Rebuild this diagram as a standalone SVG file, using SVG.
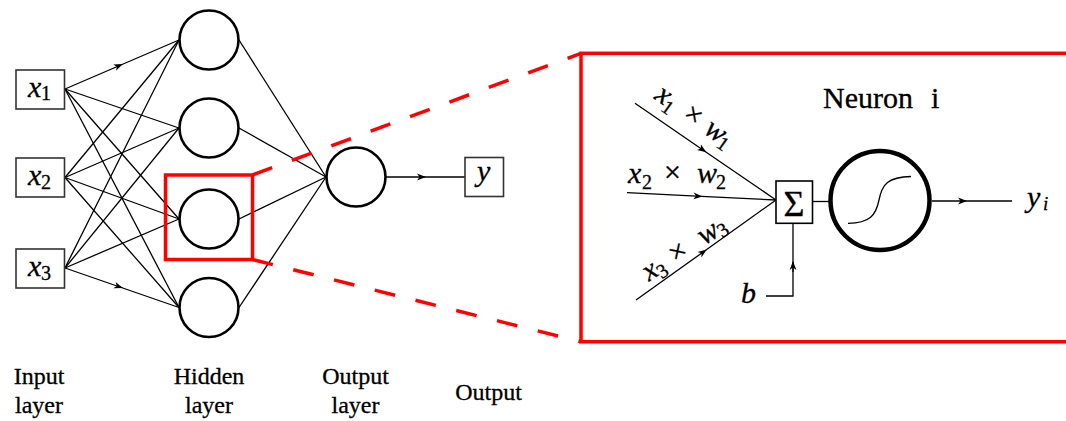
<svg xmlns="http://www.w3.org/2000/svg" width="1066" height="421" viewBox="0 0 1066 421" font-family="Liberation Serif, serif">
<style>
.edge{stroke:#000;stroke-width:1.3;fill:none}
.neuron{fill:#fff;stroke:#000;stroke-width:2.6}
.box{fill:#fff;stroke:#333;stroke-width:1.6}
.red{stroke:#f00;stroke-width:3.5;fill:none}
.dash{stroke:#f00;stroke-width:3.5;fill:none;stroke-dasharray:21 21}
text{font-family:'Liberation Serif',serif;fill:#000;stroke:#000;stroke-width:0.3}
.m{font-style:italic;font-size:30px}
.ms{font-style:normal;font-size:20px}
.op{font-style:normal;font-size:30px}
.lbl{font-size:24px;text-anchor:middle}
</style>
<defs>
<marker id="arr" viewBox="-10 -5 12 10" refX="0" refY="0" markerWidth="12" markerHeight="10" markerUnits="userSpaceOnUse" orient="auto">
<path d="M-8,-3.4 L1,0 L-8,3.4 L-5.5,0 Z" fill="#000"/>
</marker>
</defs>
<rect width="1066" height="421" fill="#fff"/>

<g id="connectors">
<path class="edge" d="M65,89 L122,64.5 L179,40" marker-mid="url(#arr)"/>
<path class="edge" d="M65,89 L179,128"/>
<path class="edge" d="M65,89 L179,219"/>
<path class="edge" d="M65,89 L179,307.5"/>
<path class="edge" d="M65,177.5 L179,40"/>
<path class="edge" d="M65,177.5 L179,128"/>
<path class="edge" d="M65,177.5 L179,219"/>
<path class="edge" d="M65,177.5 L179,307.5"/>
<path class="edge" d="M65,268 L179,40"/>
<path class="edge" d="M65,268 L179,128"/>
<path class="edge" d="M65,268 L179,219"/>
<path class="edge" d="M65,268 L122,287.75 L179,307.5" marker-mid="url(#arr)"/>
<path class="edge" d="M239,40 L326,177"/>
<path class="edge" d="M239,128 L326,177"/>
<path class="edge" d="M239,219 L326,177"/>
<path class="edge" d="M239,307.5 L326,177"/>
<path class="edge" d="M386,177 L425,177 L465,177" marker-mid="url(#arr)"/>
<path class="edge" d="M635,103.3 L705.5,151.7 L776,200" marker-mid="url(#arr)"/>
<path class="edge" d="M627,192.7 L701.5,196.35 L776,200" marker-mid="url(#arr)"/>
<path class="edge" d="M636,300 L706,250 L776,200" marker-mid="url(#arr)"/>
<path class="edge" d="M766,296 H793 V223.3"/>
<path class="edge" d="M793,272 L793,262" marker-end="url(#arr)"/>
<path class="edge" d="M812.3,201.5 L830,201.5"/>
<path class="edge" d="M932,201 L966,201 L1012,201" marker-mid="url(#arr)"/>
</g>

<g id="input-x1"><rect class="box" x="16" y="70" width="48.5" height="39"/>
<text><tspan class="m" x="28" y="96.5">x</tspan><tspan class="ms" x="41" y="100">1</tspan></text></g>
<g id="input-x2"><rect class="box" x="16" y="158" width="48.5" height="39"/>
<text><tspan class="m" x="28" y="185">x</tspan><tspan class="ms" x="41" y="189">2</tspan></text></g>
<g id="input-x3"><rect class="box" x="16" y="249" width="48.5" height="39"/>
<text><tspan class="m" x="28" y="275.5">x</tspan><tspan class="ms" x="41" y="279.5">3</tspan></text></g>

<g id="hidden-1"><circle class="neuron" cx="209" cy="40" r="29.5"/></g>
<g id="hidden-2"><circle class="neuron" cx="209" cy="128" r="29.5"/></g>
<g id="hidden-3"><circle class="neuron" cx="209" cy="219" r="29.5"/></g>
<g id="hidden-4"><circle class="neuron" cx="209" cy="307.5" r="29.5"/></g>
<g id="output-node"><circle class="neuron" cx="356" cy="177" r="29.5"/></g>
<g id="output-y"><rect class="box" x="465" y="157.5" width="38.5" height="39"/>
<text class="m" x="477" y="181">y</text></g>

<g id="zoom-frame">
<rect class="red" x="165.5" y="175" width="87" height="84.5"/>
<path class="dash" d="M252.5,175 L581,53.3"/>
<path class="dash" d="M252.5,259.5 L581,341.7"/>
<rect class="red" x="581" y="53.3" width="500" height="288.4"/>
</g>

<g id="neuron-i">
<text x="823" y="108" font-size="30">Neuron</text>
<text x="931" y="108" font-size="30">i</text>
<g id="sum"><rect class="box" x="776" y="181" width="36.5" height="42.3" style="stroke:#000"/>
<text x="794" y="216" font-size="36" text-anchor="middle">Σ</text></g>
<g id="activation"><circle cx="880" cy="200.5" r="49.5" fill="#fff" stroke="#000" stroke-width="4.5"/>
<path class="edge" d="M848,223.3 C870,223 876,215 879,200 C882,184 888,177 911,176.5"/></g>
<text><tspan class="m" x="1027" y="207">y</tspan><tspan x="1043" y="210" font-style="italic" font-size="19">i</tspan></text>
<text class="m" x="741" y="303" font-size="31">b</text>
<g transform="translate(653.3,98.2) rotate(35)">
<text><tspan class="m" x="0" y="0" font-size="28">x</tspan><tspan class="ms" x="12" y="6" font-size="19">1</tspan><tspan class="op" x="34" y="0">×</tspan><tspan class="m" x="60" y="0" font-size="28">w</tspan><tspan class="ms" x="78" y="4" font-size="19">1</tspan></text>
</g>
<text><tspan class="m" x="628" y="183" font-size="28">x</tspan><tspan class="ms" x="642" y="189" font-size="19">2</tspan><tspan class="op" x="664" y="182">×</tspan><tspan class="m" x="697" y="183" font-size="28">w</tspan><tspan class="ms" x="716" y="189" font-size="19">2</tspan></text>
<g transform="translate(649,281.7) rotate(-33)">
<text><tspan class="m" x="0" y="0" font-size="28">x</tspan><tspan class="ms" x="12" y="5" font-size="19">3</tspan><tspan class="op" x="32" y="0">×</tspan><tspan class="m" x="66" y="0" font-size="28">w</tspan><tspan class="ms" x="85" y="3.5" font-size="19">3</tspan></text>
</g>
</g>

<g id="captions">
<text class="lbl" x="39" y="384">Input</text>
<text class="lbl" x="39" y="413">layer</text>
<text class="lbl" x="209" y="384">Hidden</text>
<text class="lbl" x="209" y="413">layer</text>
<text class="lbl" x="355.5" y="383.5">Output</text>
<text class="lbl" x="355.5" y="413">layer</text>
<text class="lbl" x="488.5" y="400">Output</text>
</g>
</svg>
